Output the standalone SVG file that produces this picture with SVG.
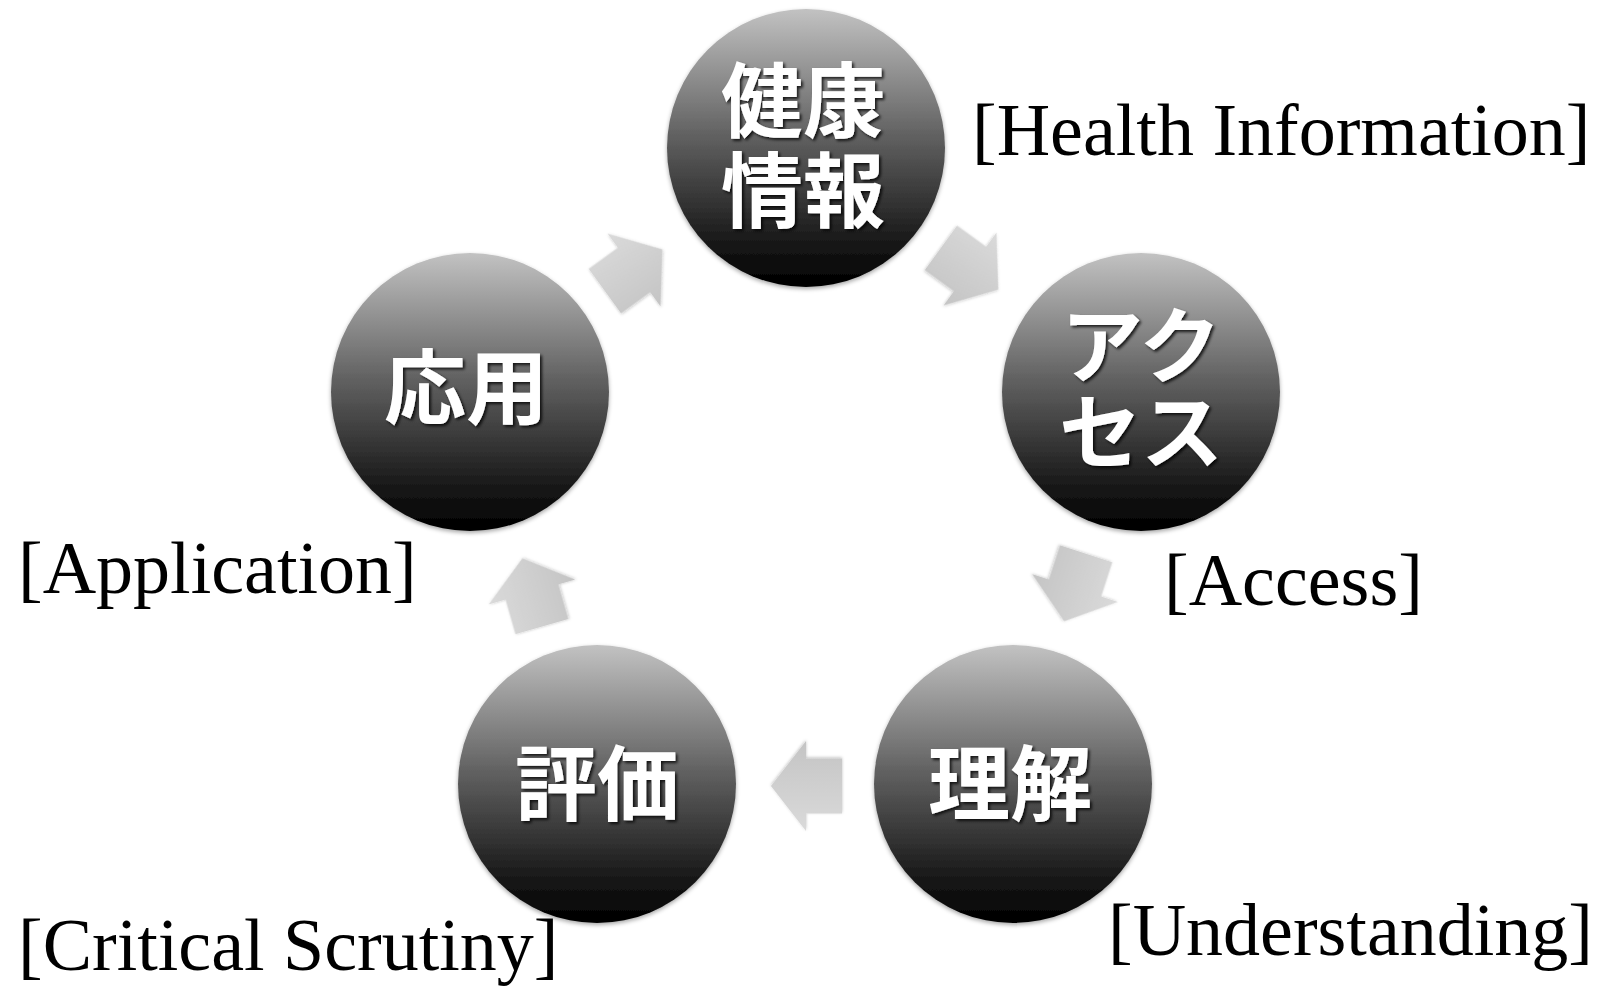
<svg xmlns="http://www.w3.org/2000/svg" width="1601" height="987" viewBox="0 0 1601 987">
<defs>
<linearGradient id="cg" x1="0" y1="0" x2="0" y2="1">
<stop offset="0" stop-color="#c2c2c2"/>
<stop offset="0.45" stop-color="#626262"/>
<stop offset="0.85" stop-color="#161616"/>
<stop offset="1" stop-color="#000"/>
</linearGradient>
<linearGradient id="ag" x1="0" y1="0" x2="0" y2="1">
<stop offset="0" stop-color="#dadada"/>
<stop offset="1" stop-color="#c4c4c4"/>
</linearGradient>
<filter id="csh" x="-20%" y="-20%" width="140%" height="140%">
<feDropShadow dx="0" dy="2" stdDeviation="2" flood-color="#000" flood-opacity="0.35"/>
</filter>
<filter id="ash" x="-30%" y="-30%" width="160%" height="160%">
<feDropShadow dx="0" dy="1" stdDeviation="1.5" flood-color="#000" flood-opacity="0.25"/>
</filter>
<filter id="tsh" x="-20%" y="-20%" width="140%" height="140%">
<feDropShadow dx="2" dy="2" stdDeviation="1.5" flood-color="#000" flood-opacity="0.8"/>
</filter>
<polygon id="arr" points="-36,-27.5 0,-27.5 0,-45 35,0 0,45 0,27.5 -36,27.5"/>
</defs>
<style>
.c{fill:url(#cg);filter:url(#csh)}
.t{font-family:'Noto Sans CJK JP','Noto Sans CJK SC',sans-serif;font-weight:bold;font-size:82px;fill:#fff;text-anchor:middle;filter:url(#tsh)}
.l{font-family:'Liberation Serif','Times New Roman',serif;font-size:74px;fill:#000}
.a{fill:url(#ag);filter:url(#ash)}
</style>
<g id="connectors">
<use href="#arr" class="a" transform="translate(970,269) rotate(36)"/>
<use href="#arr" class="a" transform="translate(1075,588) rotate(108)"/>
<use href="#arr" class="a" transform="translate(806,786) rotate(180)"/>
<use href="#arr" class="a" transform="translate(532,592) rotate(-106)"/>
<use href="#arr" class="a" transform="translate(634,270) rotate(-36)"/>
</g>
<g id="node-health">
<circle class="c" cx="806" cy="148" r="139"/>
<text class="t" x="803" y="131"><tspan x="803">健康</tspan><tspan x="803" dy="90">情報</tspan></text>
</g>
<g id="node-access">
<circle class="c" cx="1141" cy="392" r="139"/>
<text class="t" x="1141" y="376"><tspan x="1141">アク</tspan><tspan x="1141" dy="86">セス</tspan></text>
</g>
<g id="node-understanding">
<circle class="c" cx="1013" cy="784" r="139"/>
<text class="t" x="1010" y="814">理解</text>
</g>
<g id="node-evaluation">
<circle class="c" cx="597" cy="784" r="139"/>
<text class="t" x="597" y="814">評価</text>
</g>
<g id="node-application">
<circle class="c" cx="470" cy="392" r="139"/>
<text class="t" x="466" y="418">応用</text>
</g>
<g id="labels">
<text class="l" x="972" y="155">[Health Information]</text>
<text class="l" x="1164" y="605">[Access]</text>
<text class="l" x="1108" y="955">[Understanding]</text>
<text class="l" x="18" y="970">[Critical Scrutiny]</text>
<text class="l" x="18" y="593">[Application]</text>
</g>
</svg>
